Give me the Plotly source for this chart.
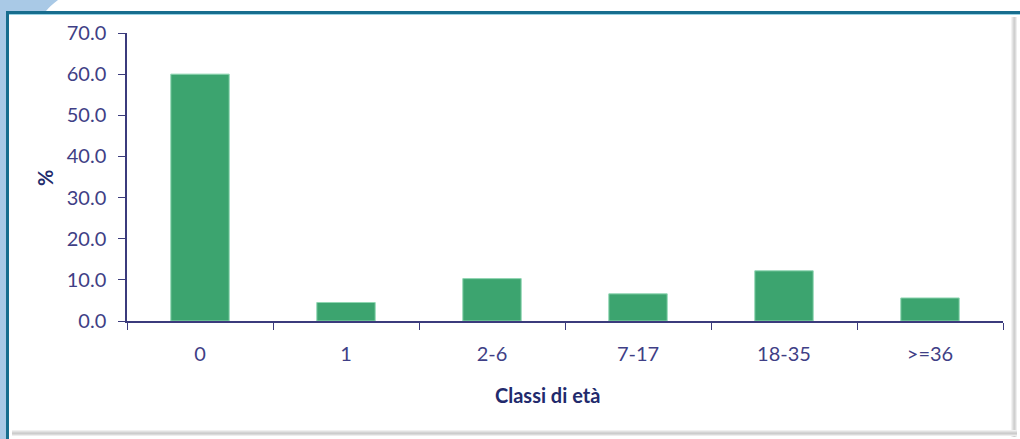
import plotly.graph_objects as go

categories = ["0", "1", "2-6", "7-17", "18-35", ">=36"]
values = [60.0, 4.5, 10.3, 6.6, 12.2, 5.6]
y_ticks = [0, 10, 20, 30, 40, 50, 60, 70]
y_tick_labels = ["0.0", "10.0", "20.0", "30.0", "40.0", "50.0", "60.0", "70.0"]
x_title = "Classi di età"
y_title = "%"

W, H = 1020, 439
L, R, T, B = 127, 1003, 33, 321


def px(x):
    return (x - L) / (R - L)


def py(y):
    return (B - y) / (B - T)


FONT = "Lato, Liberation Sans, sans-serif"
NAVY = "#3b3b7c"
LABEL = "#3f3f86"
TITLE = "#222a6c"

fig = go.Figure(
    go.Bar(
        x=categories,
        y=values,
        marker=dict(color="#3ca46f", line=dict(color="#8fd6b2", width=1)),
        width=0.4,
    )
)

shapes = []


def rect(x0, y0, x1, y1, color, layer="below"):
    shapes.append(dict(type="rect", xref="paper", yref="paper",
                       x0=px(x0), x1=px(x1), y0=py(y1), y1=py(y0),
                       fillcolor=color, line=dict(width=0), layer=layer))


# outer light-blue background pieces
rect(0, 0, 6, H, "#a9c9e6")
shapes.append(dict(type="path", xref="paper", yref="paper",
                   path=f"M {px(0)},{py(0)} L {px(58)},{py(0)} Q {px(50)},{py(6)} {px(46)},{py(11)} L {px(0)},{py(11)} Z",
                   fillcolor="#a9c9e6", line=dict(width=0), layer="below"))
# gray shadows right / bottom
for i, c in enumerate(["#f2f2f2", "#e4e4e4", "#d6d6d6", "#cfcfcf", "#dcdcdc", "#eeeeee"]):
    rect(1011 + i, 17, 1012 + i, 437, c)
for i, c in enumerate(["#f0f0f0", "#e2e2e2", "#d4d4d4", "#cccccc", "#dadada", "#ededed"]):
    rect(12, 430 + i, 1017, 431 + i, c)
# dark teal frame lines (top and left)
rect(6, 11, W, 14, "#176d8e")
rect(8, 14, W, 15, "#9ad3e3")
rect(6, 11, 9, H, "#176d8e")

annotations = [
    dict(text=f"<b>{x_title}</b>", xref="paper", yref="paper", x=px(547), y=py(395),
         xanchor="center", yanchor="middle", showarrow=False,
         font=dict(size=20, color=TITLE, family=FONT)),
    dict(text=f"<b>{y_title}</b>", xref="paper", yref="paper", x=px(45), y=py(178),
         xanchor="center", yanchor="middle", showarrow=False, textangle=-90,
         font=dict(size=20, color=TITLE, family=FONT)),
]

fig.update_layout(
    width=W, height=H,
    margin=dict(l=L, r=W - R, t=T, b=H - B),
    paper_bgcolor="white", plot_bgcolor="white",
    shapes=shapes,
    annotations=annotations,
    showlegend=False,
    bargap=0.6,
    font=dict(family=FONT, color=NAVY),
    xaxis=dict(
        type="category",
        showline=True, linecolor=NAVY, linewidth=1.5,
        ticks="outside", ticklen=7, tickcolor=NAVY, tickwidth=1.2,
        tickson="boundaries",
        ticklabelstandoff=14,
        showgrid=False, zeroline=False,
        tickfont=dict(size=20, color=LABEL, family=FONT),
    ),
    yaxis=dict(
        range=[0, 70],
        tickvals=y_ticks, ticktext=y_tick_labels,
        showline=True, linecolor=NAVY, linewidth=1.5,
        ticks="outside", ticklen=7, tickcolor=NAVY, tickwidth=1.2,
        ticklabelstandoff=8,
        showgrid=False, zeroline=False,
        tickfont=dict(size=20, color=LABEL, family=FONT),
    ),
)

fig.write_html("out.html", config={"displayModeBar": False},
               post_script="document.body.style.margin='0px';")
